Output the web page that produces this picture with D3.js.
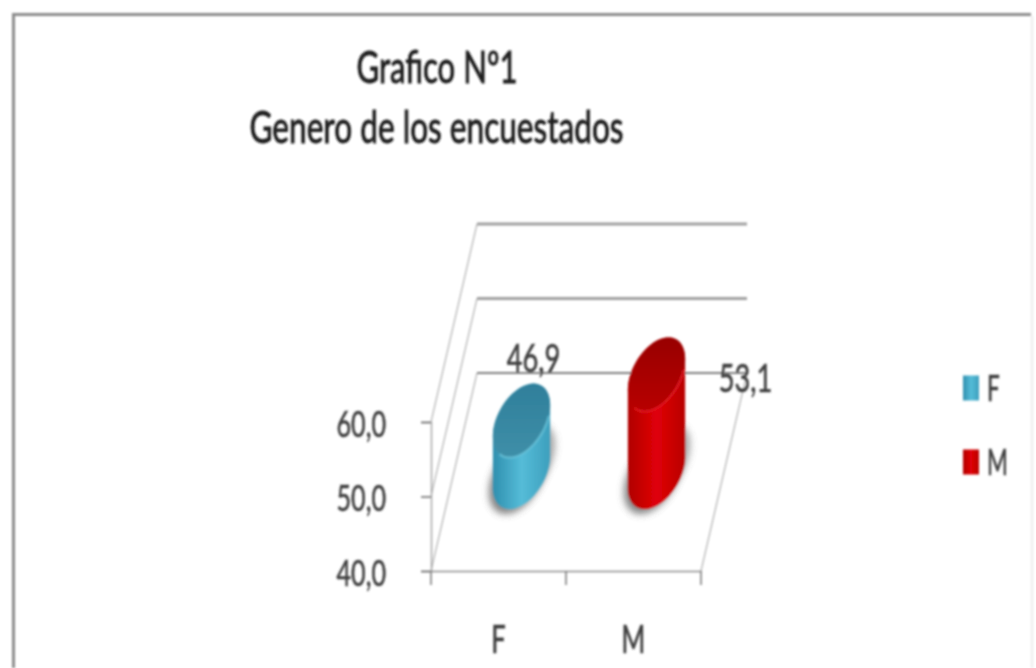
<!DOCTYPE html>
<html><head><meta charset="utf-8">
<script src="https://cdn.jsdelivr.net/npm/d3@7/dist/d3.min.js"></script>
<style>html,body{margin:0;padding:0;background:#fff;overflow:hidden}svg{display:block}
text{font-family:Lato,"Open Sans",sans-serif;fill:#3c3c3c;stroke:#3c3c3c;stroke-width:0.45px}</style></head>
<body><svg id="c" width="1036" height="668"></svg>
<script>
const categories = ["F", "M"];
const values = [46.9, 53.1];
const valueLabels = ["46,9", "53,1"];
const yTicks = [40, 50, 60];
const titleLines = ["Grafico Nº1", "Genero de los encuestados"];
const colors = {
  F: {side: ["#2f8fae", "#55bcd8", "#3d9fbd"], top: ["#2f7f9b", "#3f8fa8"], rim: "#6cc6dc"},
  M: {side: ["#b00000", "#e00008", "#b80000"], top: ["#980000", "#b80000"], rim: "#e8222a"}
};

const svg = d3.select("#c");
const defs = svg.append("defs");
const soft = defs.append("filter").attr("id", "soft").attr("filterUnits", "userSpaceOnUse")
  .attr("x", 0).attr("y", 0).attr("width", 1036).attr("height", 668);
soft.append("feGaussianBlur").attr("stdDeviation", 0.9);
defs.append("filter").attr("id", "shadow").attr("x", "-40%").attr("y", "-40%").attr("width", "180%").attr("height", "180%")
  .append("feGaussianBlur").attr("stdDeviation", 3.5);

const root = svg.append("g").attr("filter", "url(#soft)");

// chart frame
root.append("path").attr("d", "M13.5,668V14.5H1031").attr("fill", "none").attr("stroke", "#8c8c8c").attr("stroke-width", 3);
root.append("path").attr("d", "M1032,16V668").attr("fill", "none").attr("stroke", "#e4e4e4").attr("stroke-width", 1.5);

// title
titleLines.forEach((t, i) => {
  root.append("text").attr("text-anchor", "middle")
    .attr("transform", `translate(${[437, 436.5][i]},${[83, 143][i]}) scale(${[0.915, 0.93][i]},1.3)`)
    .attr("font-size", 34).style("fill", "#1c1c1c").style("stroke", "#1c1c1c").style("stroke-width", "0.7px").text(t);
});

// scales
const y = d3.scaleLinear().domain([40, 60]).range([571, 422]);
const x = d3.scaleBand().domain(categories).range([431, 701]);
const depth = d3.scaleLinear().domain([0, 1]);   // share of the floor's depth
const dx = depth.copy().range([0, 46]);
const dy = depth.copy().range([0, -198]);

// walls
const wallEnd = x.range()[1] + dx(1);
yTicks.forEach(v => {
  root.append("line").attr("x1", x.range()[0]).attr("y1", y(v)).attr("x2", x.range()[0] + dx(1)).attr("y2", y(v) + dy(1))
    .attr("stroke", "#a0a0a0").attr("stroke-width", 1);
  root.append("line").attr("x1", x.range()[0] + dx(1)).attr("y1", y(v) + dy(1)).attr("x2", wallEnd).attr("y2", y(v) + dy(1))
    .attr("stroke", v === 40 ? "#808080" : "#a0a0a0").attr("stroke-width", v === 40 ? 2 : 3);
});
// right edge of the floor
root.append("line").attr("x1", x.range()[1]).attr("y1", y(40)).attr("x2", wallEnd).attr("y2", y(40) + dy(1))
  .attr("stroke", "#a0a0a0").attr("stroke-width", 1);

// axes
const yAxis = d3.axisLeft(y).tickValues(yTicks).tickSize(10).tickPadding(7).tickFormat(d => d3.format(".1f")(d).replace(".", ","));
const gy = root.append("g").attr("transform", `translate(${x.range()[0]},0)`).call(yAxis);
gy.select(".domain").attr("stroke", "#a8a8a8").attr("stroke-width", 1.5);
gy.selectAll(".tick line").attr("stroke", "#666").attr("stroke-width", 1.5);
gy.selectAll("text").attr("font-size", 30).attr("x", 0).attr("y", 0).attr("dy", null)
  .attr("transform", "translate(-45,14) scale(0.84,1.2)");

const xAxis = d3.axisBottom(x).tickSize(0).tickPadding(0);
const gx = root.append("g").attr("transform", `translate(0,${y(40)})`).call(xAxis);
gx.select(".domain").attr("stroke", "#8a8a8a").attr("stroke-width", 1.5);
gx.selectAll("text").attr("font-size", 27).attr("y", 0).attr("dy", null)
  .attr("transform", "translate(0,82) scale(0.95,1.44)");
// boundary ticks between categories
const bounds = [...categories.map(c => x(c)), x.range()[1]];
gx.selectAll(".bound").data(bounds).join("line").attr("class", "bound")
  .attr("x1", d => d).attr("x2", d => d).attr("y1", 0).attr("y2", 14)
  .attr("stroke", "#777").attr("stroke-width", 1.5);

// cylinders
const rw = 26, tiltX = 12, tiltY = -37;
const ell = (cx, cy, a) => [cx + rw * Math.cos(a) + tiltX * Math.sin(a), cy + tiltY * Math.sin(a)];
const line = d3.line();
const aMax = Math.atan2(tiltX, rw);          // angle of the rightmost point
const arc = (cx, cy, from, to) => d3.range(0, 61).map(i => ell(cx, cy, from + (to - from) * i / 60));

categories.forEach((c, i) => {
  const cx = x(c) + x.bandwidth() / 2 + dx(0.5);
  const base = y(40) + dy(0.5);
  const top = y(values[i]) + dy(0.5);
  const col = colors[c];

  const gid = "side" + c;
  const g = defs.append("linearGradient").attr("id", gid).attr("x1", 0).attr("x2", 1).attr("y1", 0).attr("y2", 0);
  col.side.forEach((s, k) => g.append("stop").attr("offset", k / 2).attr("stop-color", s));
  const tid = "top" + c;
  const tg = defs.append("linearGradient").attr("id", tid).attr("x1", 0).attr("x2", 0).attr("y1", 0).attr("y2", 1);
  col.top.forEach((s, k) => tg.append("stop").attr("offset", k).attr("stop-color", s));

  // soft shadow behind the foot and the right side
  root.append("path").attr("d", line(arc(cx - 4, base + 5, 0, 2 * Math.PI)) + "Z")
    .attr("fill", "#666").attr("opacity", 0.8).attr("filter", "url(#shadow)");
  root.append("path").attr("d", line(arc(cx + 5, base - 12, 0, 2 * Math.PI)) + "Z")
    .attr("fill", "#777").attr("opacity", 0.65).attr("filter", "url(#shadow)");

  // body: upper half of the top ellipse joined to the lower half of the base ellipse
  const upper = arc(cx, top, aMax, aMax + Math.PI);
  const lower = arc(cx, base, aMax + Math.PI, aMax + 2 * Math.PI);
  root.append("path").attr("d", line(upper.concat(lower)) + "Z").attr("fill", `url(#${gid})`);
  // top face
  root.append("path").attr("d", line(arc(cx, top, 0, 2 * Math.PI)) + "Z")
    .attr("fill", `url(#${tid})`);
  // lit rim along the lower edge of the top face
  root.append("path").attr("d", line(arc(cx, top, aMax + Math.PI + 0.7, aMax + 2 * Math.PI - 0.3)))
    .attr("fill", "none").attr("stroke", col.rim).attr("stroke-width", 2).attr("opacity", 0.8);
});

// value labels
const labelOffset = [[12, -49], [89, 18]];
valueLabels.forEach((t, i) => {
  const c = categories[i];
  root.append("text").attr("text-anchor", "middle")
    .attr("transform", `translate(${x(c) + x.bandwidth() / 2 + dx(0.5) + labelOffset[i][0]},${y(values[i]) + dy(0.5) + labelOffset[i][1]}) scale(0.91,1.3)`)
    .attr("font-size", 30).text(t);
});

// legend
const legendY = d3.scalePoint().domain(categories).range([388, 462]);
categories.forEach(c => {
  root.append("rect").attr("x", 963).attr("y", legendY(c) - 12.5).attr("width", 16).attr("height", 25)
    .attr("fill", `url(#side${c})`);
  root.append("text").attr("transform", `translate(987,${legendY(c) + 13}) scale(0.9,1.5)`)
    .attr("font-size", 25).text(c);
});
</script></body></html>
